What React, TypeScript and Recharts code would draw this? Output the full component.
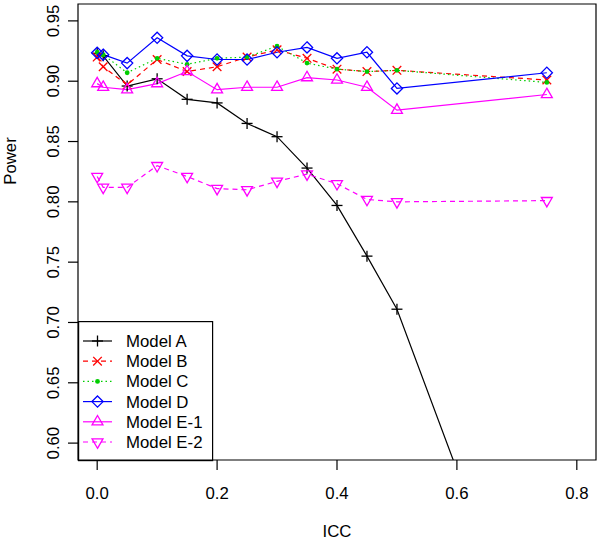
import React from 'react';
import { LineChart, Line, XAxis, YAxis, ReferenceArea, Legend } from 'recharts';

// ---- data ----
const ICC = [0, 0.01, 0.05, 0.1, 0.15, 0.2, 0.25, 0.3, 0.35, 0.4, 0.45, 0.5, 0.75];
const MODEL_A = [0.923, 0.921, 0.896, 0.902, 0.885, 0.882, 0.865, 0.854, 0.828, 0.797, 0.755, 0.711, 0.378];
const MODEL_B = [0.920, 0.912, 0.897, 0.918, 0.908, 0.912, 0.920, 0.926, 0.919, 0.910, 0.908, 0.909, 0.901];
const MODEL_C = [0.924, 0.922, 0.907, 0.919, 0.914, 0.919, 0.920, 0.929, 0.915, 0.910, 0.908, 0.909, 0.899];
const MODEL_D = [0.9235, 0.922, 0.915, 0.936, 0.921, 0.918, 0.918, 0.924, 0.928, 0.919, 0.924, 0.894, 0.907];
const MODEL_E1 = [0.898, 0.895, 0.893, 0.898, 0.908, 0.893, 0.895, 0.895, 0.903, 0.901, 0.895, 0.876, 0.889];
const MODEL_E2 = [0.821, 0.812, 0.812, 0.830, 0.821, 0.811, 0.810, 0.817, 0.823, 0.815, 0.802, 0.800, 0.801];

const X_TICKS = [0, 0.2, 0.4, 0.6, 0.8];
const Y_TICKS = [0.6, 0.65, 0.7, 0.75, 0.8, 0.85, 0.9, 0.95];
const X_DOMAIN: [number, number] = [-0.032, 0.832];
const Y_DOMAIN: [number, number] = [0.586, 0.964];

const rows = ICC.map((icc, i) => ({
  icc,
  A: MODEL_A[i],
  B: MODEL_B[i],
  C: MODEL_C[i],
  D: MODEL_D[i],
  E1: MODEL_E1[i],
  E2: MODEL_E2[i],
}));

type Shape = 'plus' | 'cross' | 'dot' | 'diamond' | 'up' | 'down';
const SERIES: { key: string; name: string; color: string; dash?: string; shape: Shape }[] = [
  { key: 'A', name: 'Model A', color: '#000000', shape: 'plus' },
  { key: 'B', name: 'Model B', color: '#FF0000', dash: '5 4', shape: 'cross' },
  { key: 'C', name: 'Model C', color: '#00CD00', dash: '1.5 3', shape: 'dot' },
  { key: 'D', name: 'Model D', color: '#0000FF', shape: 'diamond' },
  { key: 'E1', name: 'Model E-1', color: '#FF00FF', shape: 'up' },
  { key: 'E2', name: 'Model E-2', color: '#FF00FF', dash: '5 4', shape: 'down' },
];

const FONT = '"Liberation Sans", Arial, sans-serif';
const FS = 16.8;
const PLOT_LEFT = 78;
const PLOT_BOTTOM = 460;

function Marker({ shape, cx, cy, color }: { shape: Shape; cx: number; cy: number; color: string }) {
  const sw = 1.3;
  switch (shape) {
    case 'plus': {
      const r = 5.5;
      return (
        <g stroke={color} strokeWidth={sw}>
          <line x1={cx - r} y1={cy} x2={cx + r} y2={cy} />
          <line x1={cx} y1={cy - r} x2={cx} y2={cy + r} />
        </g>
      );
    }
    case 'cross': {
      const r = 4.3;
      return (
        <g stroke={color} strokeWidth={sw}>
          <line x1={cx - r} y1={cy - r} x2={cx + r} y2={cy + r} />
          <line x1={cx - r} y1={cy + r} x2={cx + r} y2={cy - r} />
        </g>
      );
    }
    case 'dot':
      return <circle cx={cx} cy={cy} r={2.4} fill={color} stroke="none" />;
    case 'diamond': {
      const r = 5.6;
      return (
        <polygon
          points={`${cx},${cy - r} ${cx + r},${cy} ${cx},${cy + r} ${cx - r},${cy}`}
          fill="none"
          stroke={color}
          strokeWidth={sw}
        />
      );
    }
    case 'up': {
      const r = 6.3;
      return (
        <polygon
          points={`${cx},${cy - r} ${cx + 0.866 * r},${cy + 0.5 * r} ${cx - 0.866 * r},${cy + 0.5 * r}`}
          fill="none"
          stroke={color}
          strokeWidth={sw}
        />
      );
    }
    case 'down': {
      const r = 6.3;
      return (
        <polygon
          points={`${cx},${cy + r} ${cx + 0.866 * r},${cy - 0.5 * r} ${cx - 0.866 * r},${cy - 0.5 * r}`}
          fill="none"
          stroke={color}
          strokeWidth={sw}
        />
      );
    }
  }
  return null;
}

function XTick(props: any) {
  const { x, payload } = props;
  return (
    <g>
      <line x1={x} y1={PLOT_BOTTOM} x2={x} y2={PLOT_BOTTOM + 10} stroke="#000" strokeWidth={1.2} />
      <text x={x} y={PLOT_BOTTOM + 39} textAnchor="middle" fontFamily={FONT} fontSize={FS} fill="#000">
        {Number(payload.value).toFixed(1)}
      </text>
    </g>
  );
}

function YTick(props: any) {
  const { y, payload } = props;
  const cx = 53;
  return (
    <g>
      <line x1={PLOT_LEFT - 10} y1={y} x2={PLOT_LEFT} y2={y} stroke="#000" strokeWidth={1.2} />
      <text
        x={cx}
        y={y}
        dy={6}
        transform={`rotate(-90 ${cx} ${y})`}
        textAnchor="middle"
        fontFamily={FONT}
        fontSize={FS}
        fill="#000"
      >
        {Number(payload.value).toFixed(2)}
      </text>
    </g>
  );
}

function LegendBox() {
  const w = 134;
  const h = 139;
  return (
    <svg width={w + 2} height={h + 2} style={{ display: 'block', overflow: 'visible' }}>
      <rect x={0.6} y={0.6} width={w} height={h} fill="none" stroke="#000" strokeWidth={1.2} />
      {SERIES.map((s, i) => {
        const cy = 20 + i * 20.2;
        return (
          <g key={s.key}>
            <line x1={5} y1={cy} x2={34} y2={cy} stroke={s.color} strokeWidth={1.2} strokeDasharray={s.dash} />
            <Marker shape={s.shape} cx={19.5} cy={cy} color={s.color} />
            <text x={48} y={cy + 6} fontFamily={FONT} fontSize={FS} fill="#000">
              {s.name}
            </text>
          </g>
        );
      })}
    </svg>
  );
}

export default function App() {
  return (
    <div style={{ position: 'absolute', left: 0, top: 0, width: 600, height: 540, background: '#fff' }}>
      <LineChart width={600} height={540} data={rows} margin={{ top: 4, right: 4, bottom: 0, left: 0 }}>
        <XAxis
          dataKey="icc"
          type="number"
          domain={X_DOMAIN}
          ticks={X_TICKS}
          interval={0}
          allowDataOverflow
          height={80}
          axisLine={false}
          tickLine={false}
          tick={<XTick />}
          label={{
            content: (p: any) => {
              const vb = p.viewBox || {};
              return (
                <text
                  x={vb.x + vb.width / 2}
                  y={537}
                  textAnchor="middle"
                  fontFamily={FONT}
                  fontSize={FS}
                  fill="#000"
                >
                  ICC
                </text>
              );
            },
          }}
        />
        <YAxis
          type="number"
          domain={Y_DOMAIN}
          ticks={Y_TICKS}
          interval={0}
          allowDataOverflow
          width={78}
          axisLine={false}
          tickLine={false}
          tick={<YTick />}
          label={{
            content: () => {
              const cx = 10;
              const cy = 161;
              return (
                <text
                  x={cx}
                  y={cy}
                  dy={6}
                  transform={`rotate(-90 ${cx} ${cy})`}
                  textAnchor="middle"
                  fontFamily={FONT}
                  fontSize={FS}
                  fill="#000"
                >
                  Power
                </text>
              );
            },
          }}
        />
        {SERIES.map((s) => (
          <Line
            key={s.key}
            dataKey={s.key}
            name={s.name}
            type="linear"
            stroke={s.color}
            strokeWidth={1.2}
            strokeDasharray={s.dash}
            isAnimationActive={false}
            dot={(p: any) => {
              if (p.cx == null || p.cy == null || isNaN(p.cx) || isNaN(p.cy)) return <g key={`${s.key}-${p.index}`} />;
              return <Marker key={`${s.key}-${p.index}`} shape={s.shape} cx={p.cx} cy={p.cy} color={s.color} />;
            }}
            activeDot={false}
          />
        ))}
        <ReferenceArea
          x1={X_DOMAIN[0]}
          x2={X_DOMAIN[1]}
          y1={Y_DOMAIN[0]}
          y2={Y_DOMAIN[1]}
          fill="none"
          fillOpacity={0}
          stroke="#000"
          strokeWidth={1.2}
          ifOverflow="visible"
        />
        <Legend
          layout="vertical"
          align="center"
          verticalAlign="middle"
          content={() => <LegendBox />}
          wrapperStyle={{ left: 78, top: 321, bottom: 'auto', right: 'auto', width: 136, height: 141 }}
        />
      </LineChart>
    </div>
  );
}
